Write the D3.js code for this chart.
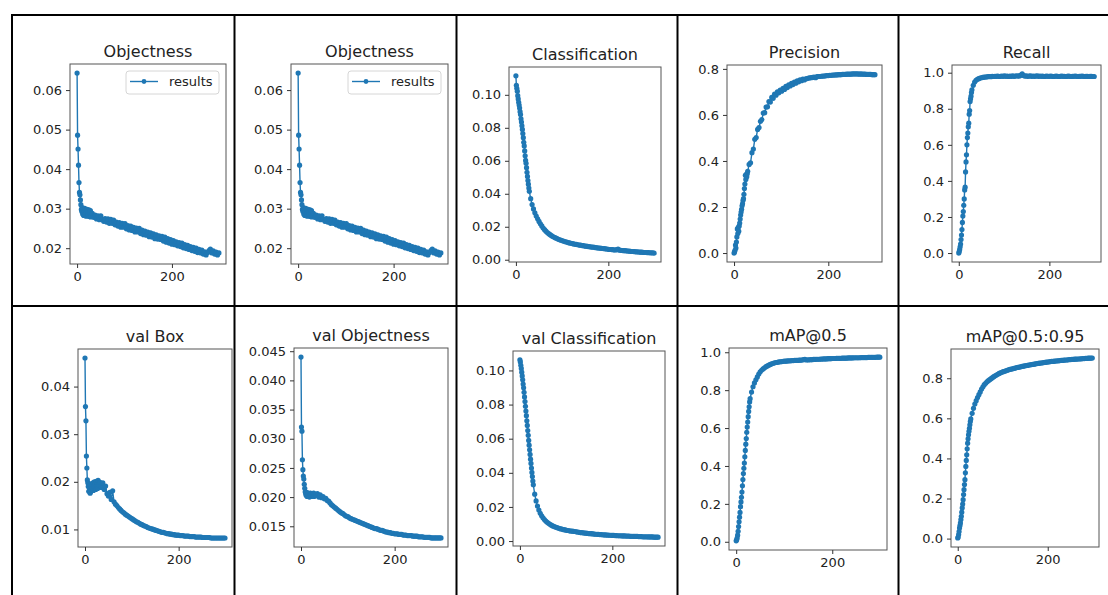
<!DOCTYPE html>
<html>
<head>
<meta charset="utf-8">
<script src="https://cdn.jsdelivr.net/npm/d3@7"></script>
<style>
  html, body { margin: 0; padding: 0; background: #fff; }
  svg { display: block; font-family: "DejaVu Sans", sans-serif; }
</style>
</head>
<body>
<svg id="chart" width="1108" height="595"></svg>
<script>
// ---------------- DATA ----------------
const epochs = [
  0,1,2,3,4,5,6,7,8,9,
  10,11,12,13,14,15,16,17,18,19,
  20,21,22,23,24,25,26,27,28,29,
  32,35,38,41,44,47,50,53,56,59,
  62,65,68,71,74,77,80,83,86,89,
  92,95,98,101,104,107,110,113,116,119,
  122,125,128,131,134,137,140,143,146,149,
  152,155,158,161,164,167,170,173,176,179,
  182,185,188,191,194,197,200,203,206,209,
  212,215,218,221,224,227,230,233,236,239,
  242,245,248,251,254,257,260,263,266,269,
  272,275,278,281,284,287,290,293,296,299
];

const trainObjectness = [
  0.0643,0.0486,0.0451,0.0410,0.0366,0.0341,0.0335,0.0322,0.0310,0.0298,
  0.0293,0.0303,0.0286,0.0298,0.0283,0.0294,0.0301,0.0285,0.0296,0.0281,
  0.0291,0.0298,0.0282,0.0293,0.0285,0.0297,0.0280,0.0290,0.0295,0.0279,
  0.0288,0.0278,0.0284,0.0274,0.0282,0.0272,0.0282,0.0273,0.0268,0.0275,
  0.0266,0.0274,0.0263,0.0273,0.0263,0.0271,0.0259,0.0266,0.0256,0.0265,
  0.0253,0.0263,0.0253,0.0262,0.0249,0.0257,0.0246,0.0256,0.0245,0.0253,
  0.0241,0.0251,0.0241,0.0250,0.0237,0.0246,0.0234,0.0243,0.0233,0.0241,
  0.0229,0.0239,0.0228,0.0236,0.0224,0.0234,0.0223,0.0231,0.0222,0.0230,
  0.0218,0.0228,0.0215,0.0224,0.0213,0.0222,0.0210,0.0219,0.0209,0.0216,
  0.0206,0.0214,0.0204,0.0213,0.0201,0.0209,0.0199,0.0207,0.0197,0.0204,
  0.0194,0.0202,0.0192,0.0200,0.0189,0.0197,0.0188,0.0195,0.0185,0.0191,
  0.0183,0.0189,0.0194,0.0198,0.0188,0.0193,0.0185,0.0190,0.0183,0.0188
];

const trainClassification = [
  0.1115,0.1058,0.1040,0.1022,0.0995,0.0975,0.0955,0.0938,0.0920,0.0898,
  0.0880,0.0855,0.0835,0.0812,0.0790,0.0765,0.0740,0.0712,0.0690,0.0660,
  0.0630,0.0602,0.0585,0.0558,0.0530,0.0505,0.0480,0.0458,0.0435,0.0415,
  0.0370,0.0335,0.0308,0.0285,0.0265,0.0248,0.0232,0.0218,0.0205,0.0192,
  0.0182,0.0173,0.0165,0.0158,0.0152,0.0146,0.0141,0.0136,0.0132,0.0128,
  0.0124,0.0121,0.0118,0.0115,0.0112,0.0109,0.0107,0.0104,0.0102,0.0100,
  0.0098,0.0096,0.0094,0.0093,0.0091,0.0089,0.0088,0.0086,0.0085,0.0083,
  0.0082,0.0081,0.0079,0.0078,0.0077,0.0076,0.0075,0.0073,0.0072,0.0071,
  0.0070,0.0069,0.0068,0.0067,0.0066,0.0065,0.0063,0.0062,0.0062,0.0061,
  0.0060,0.0059,0.0061,0.0065,0.0058,0.0057,0.0056,0.0055,0.0055,0.0054,
  0.0053,0.0052,0.0051,0.0050,0.0050,0.0049,0.0048,0.0048,0.0047,0.0046,
  0.0046,0.0045,0.0044,0.0044,0.0043,0.0043,0.0042,0.0042,0.0041,0.0040
];

const precision = [
  0.000,0.005,0.012,0.035,0.022,0.048,0.070,0.105,0.085,0.112,
  0.095,0.118,0.130,0.148,0.165,0.178,0.190,0.205,0.214,0.228,
  0.236,0.255,0.280,0.300,0.338,0.320,0.342,0.331,0.345,0.355,
  0.385,0.392,0.436,0.452,0.494,0.502,0.537,0.545,0.572,0.580,
  0.608,0.610,0.634,0.635,0.658,0.656,0.676,0.672,0.690,0.686,
  0.700,0.696,0.708,0.703,0.716,0.711,0.724,0.719,0.731,0.726,
  0.737,0.732,0.743,0.738,0.748,0.744,0.752,0.749,0.756,0.752,
  0.757,0.758,0.760,0.761,0.762,0.763,0.764,0.762,0.766,0.767,
  0.767,0.768,0.769,0.769,0.770,0.771,0.771,0.772,0.772,0.773,
  0.773,0.774,0.774,0.775,0.775,0.775,0.776,0.776,0.776,0.777,
  0.777,0.777,0.777,0.778,0.778,0.778,0.778,0.778,0.777,0.778,
  0.777,0.777,0.777,0.776,0.776,0.776,0.776,0.775,0.775,0.775
];

const recall = [
  0.000,0.008,0.020,0.035,0.050,0.075,0.100,0.130,0.170,0.205,
  0.230,0.265,0.300,0.350,0.365,0.450,0.505,0.545,0.600,0.640,
  0.665,0.700,0.720,0.770,0.790,0.840,0.855,0.870,0.890,0.905,
  0.930,0.948,0.958,0.963,0.967,0.970,0.972,0.974,0.975,0.976,
  0.977,0.978,0.979,0.978,0.980,0.979,0.980,0.980,0.981,0.979,
  0.980,0.981,0.980,0.982,0.980,0.981,0.979,0.981,0.980,0.982,
  0.980,0.981,0.983,0.981,0.982,0.986,0.993,0.984,0.981,0.982,
  0.980,0.981,0.982,0.980,0.981,0.980,0.981,0.982,0.980,0.981,
  0.980,0.981,0.979,0.980,0.981,0.980,0.980,0.981,0.980,0.979,
  0.980,0.981,0.980,0.979,0.980,0.981,0.980,0.980,0.979,0.980,
  0.981,0.980,0.979,0.980,0.980,0.981,0.980,0.979,0.980,0.980,
  0.981,0.980,0.979,0.980,0.980,0.979,0.980,0.980,0.979,0.979
];

const valBox = [
  0.0460,0.0358,0.0328,0.0254,0.0229,0.0204,0.0198,0.0190,0.0180,0.0196,
  0.0186,0.0176,0.0179,0.0188,0.0183,0.0192,0.0185,0.0198,0.0182,0.0191,
  0.0200,0.0187,0.0195,0.0184,0.0201,0.0190,0.0197,0.0186,0.0203,0.0194,
  0.0199,0.0188,0.0198,0.0184,0.0191,0.0175,0.0170,0.0178,0.0163,0.0181,
  0.0158,0.0153,0.0150,0.0146,0.0143,0.0140,0.0137,0.0135,0.0132,0.0130,
  0.0128,0.0126,0.0124,0.0122,0.0120,0.0118,0.0116,0.0115,0.0113,0.0111,
  0.0110,0.0108,0.0107,0.0106,0.0104,0.0103,0.0102,0.0101,0.0100,0.0099,
  0.0098,0.0097,0.0096,0.0095,0.0094,0.0094,0.0093,0.0092,0.0091,0.0091,
  0.0090,0.0090,0.0089,0.0089,0.0088,0.0088,0.0088,0.0087,0.0087,0.0087,
  0.0086,0.0086,0.0086,0.0086,0.0085,0.0085,0.0085,0.0085,0.0084,0.0084,
  0.0084,0.0084,0.0084,0.0083,0.0083,0.0083,0.0083,0.0083,0.0083,0.0082,
  0.0082,0.0082,0.0082,0.0082,0.0082,0.0082,0.0082,0.0082,0.0082,0.0082
];

const valObjectness = [
  0.0440,0.0320,0.0313,0.0264,0.0247,0.0236,0.0231,0.0222,0.0215,0.0209,
  0.0206,0.0203,0.0208,0.0201,0.0205,0.0207,0.0202,0.0206,0.0200,0.0204,
  0.0207,0.0203,0.0205,0.0201,0.0206,0.0202,0.0204,0.0207,0.0201,0.0205,
  0.0203,0.0206,0.0200,0.0204,0.0199,0.0201,0.0197,0.0198,0.0194,0.0193,
  0.0190,0.0187,0.0185,0.0183,0.0181,0.0179,0.0177,0.0175,0.0173,0.0172,
  0.0170,0.0168,0.0167,0.0166,0.0164,0.0163,0.0162,0.0161,0.0160,0.0159,
  0.0158,0.0157,0.0156,0.0155,0.0154,0.0153,0.0152,0.0151,0.0150,0.0149,
  0.0148,0.0147,0.0146,0.0146,0.0145,0.0144,0.0143,0.0143,0.0142,0.0141,
  0.0140,0.0140,0.0139,0.0139,0.0138,0.0138,0.0137,0.0137,0.0137,0.0136,
  0.0136,0.0136,0.0135,0.0135,0.0135,0.0134,0.0134,0.0134,0.0134,0.0133,
  0.0133,0.0133,0.0133,0.0132,0.0132,0.0132,0.0132,0.0131,0.0131,0.0131,
  0.0131,0.0131,0.0130,0.0130,0.0130,0.0130,0.0130,0.0130,0.0130,0.0130
];

const valClassification = [
  0.1062,0.1050,0.1030,0.1012,0.0990,0.0968,0.0945,0.0920,0.0898,0.0872,
  0.0845,0.0818,0.0790,0.0762,0.0735,0.0705,0.0678,0.0648,0.0620,0.0590,
  0.0562,0.0535,0.0508,0.0480,0.0455,0.0428,0.0402,0.0378,0.0352,0.0330,
  0.0275,0.0235,0.0205,0.0182,0.0163,0.0148,0.0136,0.0126,0.0117,0.0110,
  0.0104,0.0098,0.0093,0.0089,0.0085,0.0082,0.0079,0.0076,0.0073,0.0071,
  0.0069,0.0067,0.0065,0.0063,0.0062,0.0060,0.0059,0.0058,0.0057,0.0056,
  0.0054,0.0053,0.0051,0.0050,0.0049,0.0048,0.0047,0.0046,0.0045,0.0044,
  0.0043,0.0043,0.0042,0.0041,0.0040,0.0040,0.0039,0.0038,0.0038,0.0037,
  0.0036,0.0036,0.0035,0.0035,0.0034,0.0034,0.0033,0.0033,0.0032,0.0032,
  0.0031,0.0031,0.0031,0.0030,0.0030,0.0030,0.0029,0.0029,0.0029,0.0028,
  0.0028,0.0028,0.0027,0.0027,0.0027,0.0026,0.0026,0.0026,0.0025,0.0025,
  0.0025,0.0025,0.0024,0.0024,0.0024,0.0024,0.0023,0.0023,0.0023,0.0023
];

const mAP50 = [
  0.005,0.010,0.020,0.035,0.055,0.080,0.105,0.130,0.155,0.185,
  0.210,0.235,0.262,0.295,0.328,0.360,0.388,0.415,0.448,0.482,
  0.515,0.545,0.578,0.605,0.632,0.660,0.688,0.712,0.738,0.755,
  0.790,0.818,0.838,0.855,0.870,0.885,0.897,0.905,0.912,0.918,
  0.924,0.928,0.932,0.936,0.939,0.942,0.944,0.946,0.947,0.949,
  0.950,0.951,0.952,0.953,0.953,0.954,0.955,0.955,0.956,0.956,
  0.957,0.957,0.957,0.958,0.958,0.959,0.961,0.963,0.959,0.960,
  0.960,0.961,0.961,0.962,0.962,0.963,0.963,0.963,0.964,0.964,
  0.965,0.965,0.965,0.966,0.966,0.966,0.967,0.967,0.967,0.968,
  0.968,0.968,0.968,0.969,0.969,0.969,0.969,0.970,0.970,0.970,
  0.970,0.971,0.971,0.971,0.971,0.971,0.972,0.972,0.972,0.972,
  0.972,0.973,0.973,0.973,0.973,0.973,0.973,0.974,0.974,0.974
];

const mAP5095 = [
  0.003,0.008,0.020,0.035,0.053,0.065,0.078,0.095,0.111,0.132,
  0.153,0.172,0.194,0.220,0.244,0.270,0.294,0.328,0.360,0.390,
  0.418,0.448,0.476,0.498,0.518,0.535,0.550,0.568,0.584,0.597,
  0.625,0.650,0.671,0.688,0.704,0.718,0.732,0.746,0.757,0.768,
  0.775,0.782,0.788,0.793,0.798,0.803,0.808,0.812,0.816,0.820,
  0.824,0.827,0.830,0.833,0.835,0.837,0.840,0.842,0.844,0.846,
  0.847,0.849,0.851,0.853,0.854,0.856,0.857,0.859,0.860,0.862,
  0.863,0.864,0.866,0.867,0.868,0.869,0.870,0.872,0.873,0.874,
  0.875,0.876,0.877,0.878,0.879,0.880,0.881,0.882,0.883,0.884,
  0.884,0.885,0.886,0.887,0.887,0.888,0.889,0.889,0.890,0.891,
  0.891,0.892,0.893,0.893,0.894,0.894,0.895,0.895,0.896,0.896,
  0.897,0.897,0.898,0.898,0.899,0.899,0.900,0.900,0.900,0.901
];

const xTicks = [0, 200];
const ticksObj = [0.02, 0.03, 0.04, 0.05, 0.06];
const ticksCls = [0.00, 0.02, 0.04, 0.06, 0.08, 0.10];
const ticksPrec = [0.0, 0.2, 0.4, 0.6, 0.8];
const ticksRecall = [0.0, 0.2, 0.4, 0.6, 0.8, 1.0];
const ticksValBox = [0.01, 0.02, 0.03, 0.04];
const ticksValObj = [0.015, 0.020, 0.025, 0.030, 0.035, 0.040, 0.045];
const ticksValCls = [0.00, 0.02, 0.04, 0.06, 0.08, 0.10];
const ticksMap50 = [0.0, 0.2, 0.4, 0.6, 0.8, 1.0];
const ticksMap95 = [0.0, 0.2, 0.4, 0.6, 0.8];
const legendLabel = "results";

// ---------------- LAYOUT ----------------
const COLOR = "#1f77b4";
const panels = [
  { title: "Objectness", values: trainObjectness, ticks: ticksObj, fmt: ".2f", box: [70, 226, 64, 264], legend: true },
  { title: "Objectness", values: trainObjectness, ticks: ticksObj, fmt: ".2f", box: [291, 448, 64, 264], legend: true },
  { title: "Classification", values: trainClassification, ticks: ticksCls, fmt: ".2f", box: [509, 661, 67, 262] },
  { title: "Precision", values: precision, ticks: ticksPrec, fmt: ".1f", box: [727, 882, 65, 262] },
  { title: "Recall", values: recall, ticks: ticksRecall, fmt: ".1f", box: [952, 1101, 65, 262] },
  { title: "val Box", values: valBox, ticks: ticksValBox, fmt: ".2f", box: [78, 232, 349, 547] },
  { title: "val Objectness", values: valObjectness, ticks: ticksValObj, fmt: ".3f", box: [294, 448, 348, 547] },
  { title: "val Classification", values: valClassification, ticks: ticksValCls, fmt: ".2f", box: [513, 665, 351, 546] },
  { title: "mAP@0.5", values: mAP50, ticks: ticksMap50, fmt: ".1f", box: [729, 887, 348, 550] },
  { title: "mAP@0.5:0.95", values: mAP5095, ticks: ticksMap95, fmt: ".1f", box: [951, 1099, 349, 547] }
];

const svg = d3.select("#chart");
svg.append("rect").attr("width", 1108).attr("height", 595).attr("fill", "#fff");

function padded(ext) {
  const r = ext[1] - ext[0];
  return [ext[0] - 0.05 * r, ext[1] + 0.05 * r];
}

panels.forEach(p => {
  const [x0, x1, y0, y1] = p.box;
  const n = Math.min(epochs.length, p.values.length);
  const pts = d3.range(n).map(i => ({ x: epochs[i], y: p.values[i] }));
  const xs = d3.scaleLinear().domain(padded(d3.extent(epochs))).range([x0, x1]);
  const ys = d3.scaleLinear().domain(padded(d3.extent(p.values))).range([y1, y0]);

  const g = svg.append("g");

  const line = d3.line().x(d => xs(d.x)).y(d => ys(d.y));
  g.append("path").datum(pts).attr("d", line)
    .attr("fill", "none").attr("stroke", COLOR).attr("stroke-width", 1.4);
  g.selectAll("circle.pt").data(pts).join("circle").attr("class", "pt")
    .attr("cx", d => xs(d.x)).attr("cy", d => ys(d.y)).attr("r", 2.6)
    .attr("fill", COLOR);

  g.append("rect").attr("x", x0).attr("y", y0).attr("width", x1 - x0).attr("height", y1 - y0)
    .attr("fill", "none").attr("stroke", "#555").attr("stroke-width", 1);

  const yAxis = d3.axisLeft(ys).tickValues(p.ticks).tickFormat(d3.format(p.fmt)).tickSize(4).tickPadding(4);
  const ya = g.append("g").attr("transform", `translate(${x0},0)`).call(yAxis);
  const xAxis = d3.axisBottom(xs).tickValues(xTicks).tickFormat(d3.format("d")).tickSize(4).tickPadding(4);
  const xa = g.append("g").attr("transform", `translate(0,${y1})`).call(xAxis);
  [ya, xa].forEach(a => {
    a.select(".domain").remove();
    a.selectAll(".tick line").attr("stroke", "#333");
    a.selectAll(".tick text").attr("fill", "#222").style("font-size", "13px")
      .style("font-family", "DejaVu Sans, sans-serif");
  });

  g.append("text").attr("x", (x0 + x1) / 2).attr("y", y0 - 7)
    .attr("text-anchor", "middle").attr("fill", "#222")
    .style("font-size", "16px").text(p.title);

  if (p.legend) {
    const lw = 93, lh = 23;
    const lx = x1 - 7 - lw, ly = y0 + 7;
    const lg = g.append("g");
    lg.append("rect").attr("x", lx).attr("y", ly).attr("width", lw).attr("height", lh)
      .attr("rx", 3).attr("fill", "#fff").attr("stroke", "#d6d6d6").attr("stroke-width", 1);
    lg.append("line").attr("x1", lx + 4).attr("x2", lx + 32).attr("y1", ly + 10.5).attr("y2", ly + 10.5)
      .attr("stroke", COLOR).attr("stroke-width", 1.4);
    lg.append("circle").attr("cx", lx + 18).attr("cy", ly + 10.5).attr("r", 2.4).attr("fill", COLOR);
    lg.append("text").attr("x", lx + 43).attr("y", ly + 15).attr("fill", "#222")
      .style("font-size", "13px").text(legendLabel);
  }
});

// table grid lines
const grid = svg.append("g").attr("stroke", "#000").attr("stroke-width", 2);
grid.append("line").attr("x1", 11).attr("x2", 1108).attr("y1", 15).attr("y2", 15);
grid.append("line").attr("x1", 11).attr("x2", 1108).attr("y1", 306).attr("y2", 306);
[12, 234.5, 456.5, 677.5, 898.5].forEach(x => {
  grid.append("line").attr("x1", x).attr("x2", x).attr("y1", 14).attr("y2", 595);
});
</script>
</body>
</html>
